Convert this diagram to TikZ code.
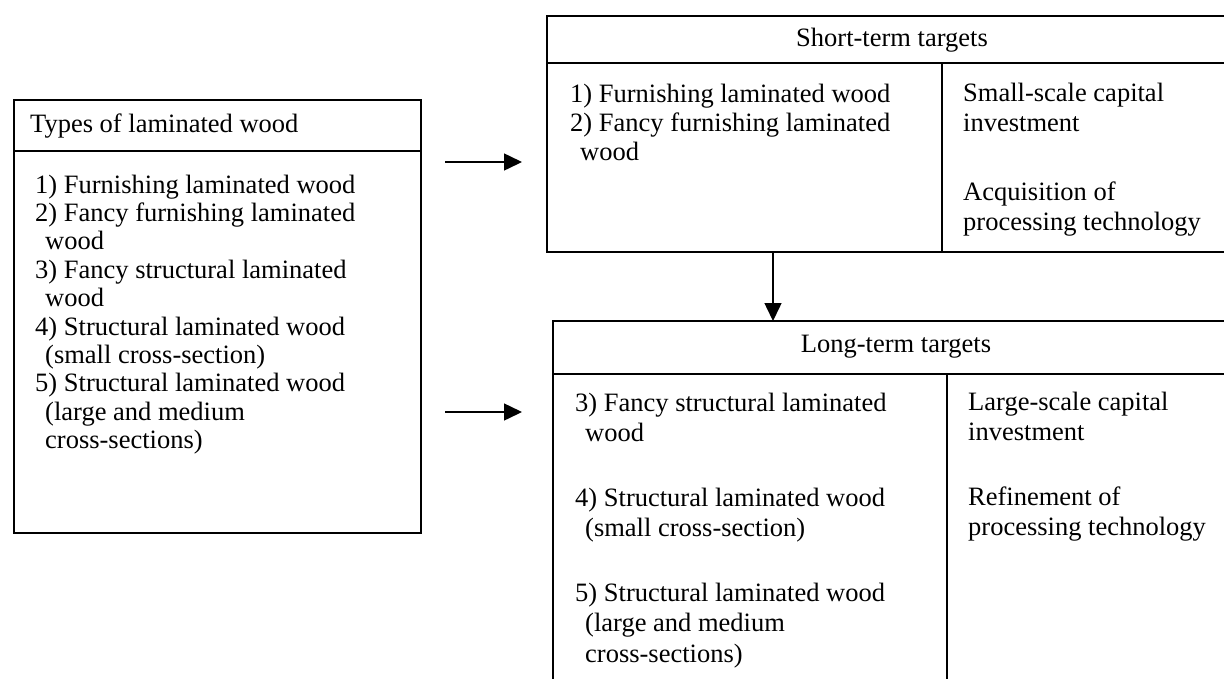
\documentclass[tikz,border=0pt]{standalone}
\usepackage{fontspec}
\setmainfont{Liberation Serif}
\usetikzlibrary{arrows.meta}

\begin{document}
\begin{tikzpicture}[
    x=1pt, y=-1pt,
    frame/.style={draw, line width=1.5pt, inner sep=0pt, outer sep=0pt, anchor=north west},
    rule/.style={line width=1.5pt},
    txt/.style={inner sep=0pt, align=left, anchor=base west, font=\fontsize{26.5}{28.4}\selectfont},
    wide/.style={txt, font=\fontsize{26.5}{30.5}\selectfont},
    arrow/.style={-{Triangle[length=18pt, width=17pt]}, line width=1.5pt}
]
\useasboundingbox (0,0) rectangle (1224,678);
\clip (0,0) rectangle (1224,678);

% boxes
\node[frame, minimum width=407pt, minimum height=433pt] (types) at (14,100) {};
\node[frame, minimum width=691pt, minimum height=236pt] (short) at (547,16) {};
\node[frame, minimum width=687pt, minimum height=400pt] (long) at (553,321) {};

\draw[rule] (types.north west) ++(0,51) -- ++(407,0);
\draw[rule] (short.north west) ++(0,47) -- ++(691,0);
\draw[rule] (short.north west) ++(395,47) -- ++(0,189);
\draw[rule] (long.north west) ++(0,53) -- ++(687,0);
\draw[rule] (long.north west) ++(394,53) -- ++(0,400);

% texts (a node's base is the baseline of its last line)
\node[txt, anchor=west] (typeshead) at (30,126) {Types of laminated wood};
\node[txt] (typeslist) at (35,448.6) {1) Furnishing laminated wood\\
  2) Fancy furnishing laminated\\ \hspace*{10pt}wood\\
  3) Fancy structural laminated\\ \hspace*{10pt}wood\\
  4) Structural laminated wood\\ \hspace*{10pt}(small cross-section)\\
  5) Structural laminated wood\\ \hspace*{10pt}(large and medium\\ \hspace*{10pt}cross-sections)};

\node[txt, anchor=center] (shorthead) at (892,40) {Short-term targets};
\node[txt, font=\fontsize{26.5}{29}\selectfont] (shortlist) at (570,160) {1) Furnishing laminated wood\\
  2) Fancy furnishing laminated\\ \hspace*{10pt}wood};
\node[txt, font=\fontsize{26.5}{30}\selectfont] (smallcap) at (963,131) {Small-scale capital\\investment};
\node[txt, font=\fontsize{26.5}{30}\selectfont] (acquire) at (963,230) {Acquisition of\\processing technology};

\node[txt, anchor=center] (longhead) at (896,347) {Long-term targets};
\node[wide] (fancy) at (575,441.5) {3) Fancy structural laminated\\ \hspace*{10pt}wood};
\node[wide] (small) at (575,536.5) {4) Structural laminated wood\\ \hspace*{10pt}(small cross-section)};
\node[wide] (large) at (575,662) {5) Structural laminated wood\\ \hspace*{10pt}(large and medium\\ \hspace*{10pt}cross-sections)};
\node[wide] (largecap) at (968,440.5) {Large-scale capital\\investment};
\node[wide] (refine) at (968,535.5) {Refinement of\\processing technology};

% arrows
\coordinate (in1) at (445,162);
\coordinate (out1) at (522,162);
\coordinate (in2) at (445,412);
\coordinate (out2) at (522,412);
\coordinate (vx) at (773,0);
\draw[arrow] (in1) -- (out1);
\draw[arrow] (in2) -- (out2);
\draw[arrow] (short.south -| vx) -- (long.north -| vx);

\end{tikzpicture}
\end{document}
